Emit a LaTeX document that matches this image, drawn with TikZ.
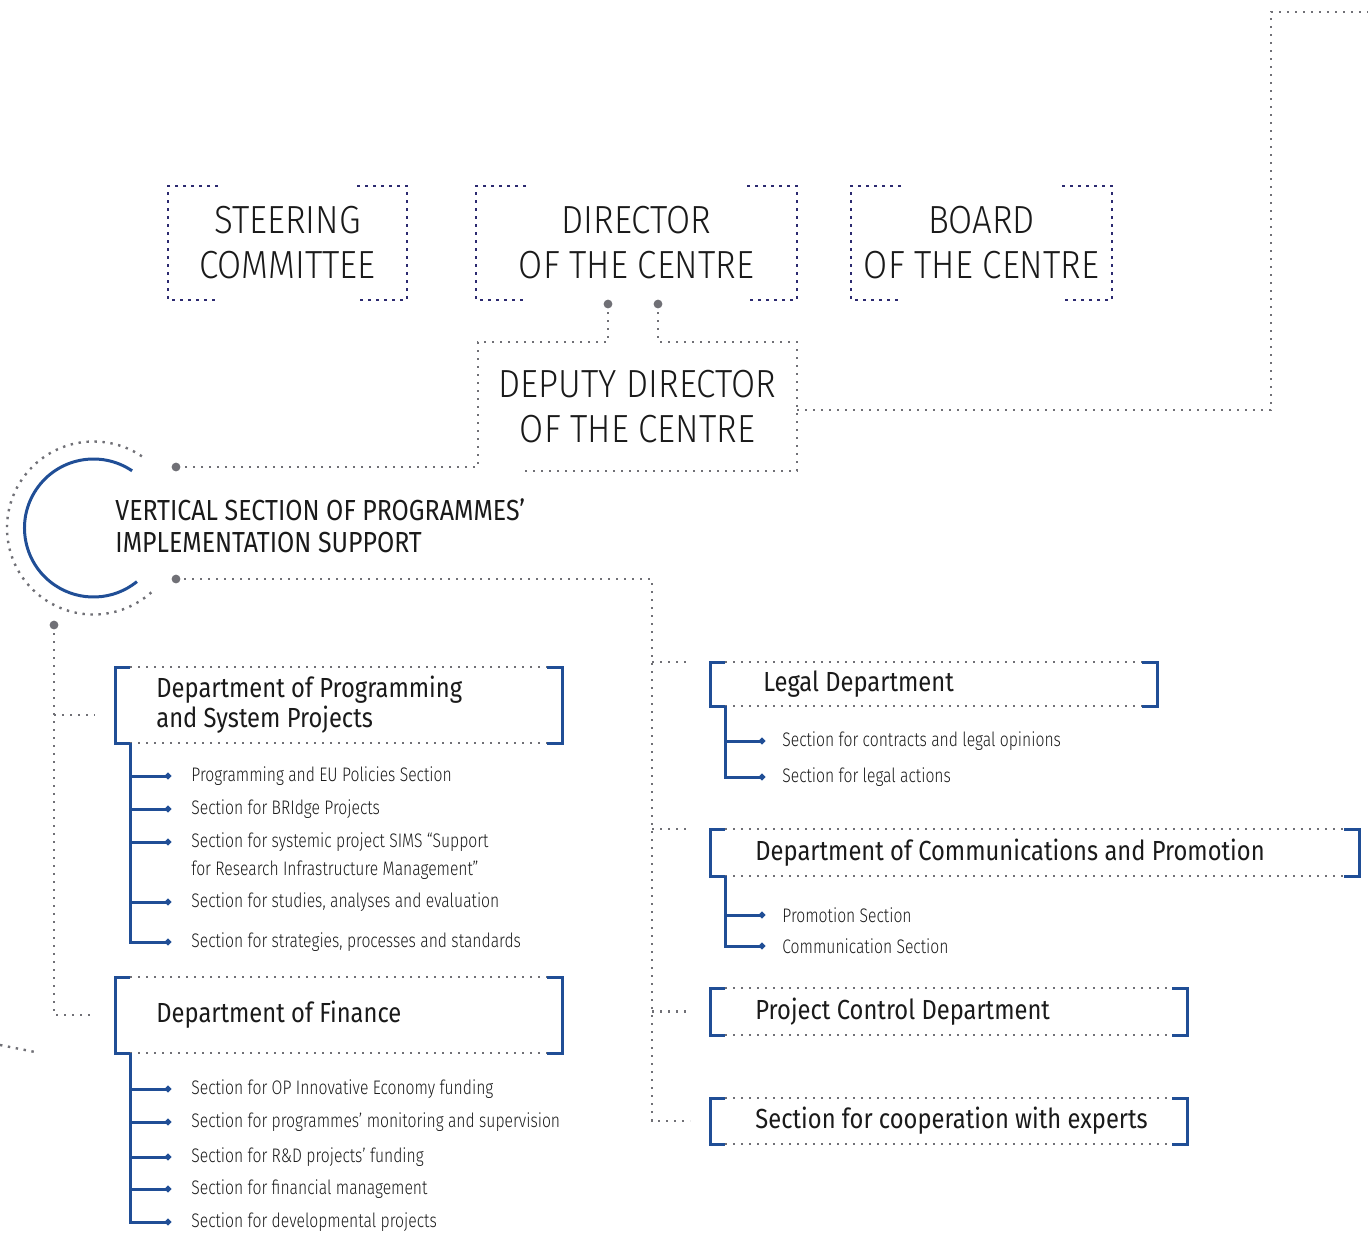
\documentclass[tikz,border=0pt]{standalone}
\usepackage{fontspec}
\setmainfont{Fira Sans}[FakeStretch=0.86]
\newfontfamily\headfont{Fira Sans Light}[FakeStretch=0.89]
\newfontfamily\lightfont{Fira Sans Light}[FakeStretch=0.80]
\usetikzlibrary{arrows.meta}
\definecolor{bracketblue}{RGB}{32,78,150}
\definecolor{dotgrey}{RGB}{112,112,118}
\definecolor{dotnavy}{RGB}{44,42,112}
\definecolor{ink}{RGB}{26,26,26}

\tikzset{
  head/.style={align=center,inner sep=0,outer sep=0,text=ink,
    font=\headfont\fontsize{19.6}{22.5}\selectfont},
  vert/.style={align=left,anchor=west,inner sep=0,text=ink,
    font=\fontsize{14.5}{16}\selectfont},
  frame/.style={inner sep=0,outer sep=0},
  dept/.style={align=left,anchor=west,inner sep=0,text=ink,
    font=\fontsize{13.8}{15}\selectfont},
  sect/.style={align=left,anchor=west,inner sep=0,text=ink,
    font=\lightfont\fontsize{9.8}{14}\selectfont},
  gdot/.style={dotgrey,line width=1.2pt,dash pattern=on 1.2pt off 2.8pt},
  ndot/.style={dotnavy,line width=1.3pt,dash pattern=on 1.3pt off 2.7pt},
  bracket/.style={bracketblue,line width=1.5pt},
  twig/.style={bracketblue,line width=1.5pt,-{Circle[length=3pt]}},
  circline/.style={bracketblue,line width=1.5pt}
}

\begin{document}
\begin{tikzpicture}[x=0.5pt,y=-0.5pt]
\useasboundingbox (0,0) rectangle (1368,1232);

% top row
\node[head,minimum width=119.5pt,minimum height=57pt] (steer) at (287.5,243) {STEERING\\COMMITTEE};
\node[head,minimum width=160.5pt,minimum height=57pt] (dir) at (636.5,243) {DIRECTOR\\OF THE CENTRE};
\node[head,minimum width=130.5pt,minimum height=57pt] (board) at (981.5,243) {BOARD\\OF THE CENTRE};
\node[head,minimum width=159.5pt,minimum height=64.5pt] (dep) at (637.5,406.5) {DEPUTY DIRECTOR\\OF THE CENTRE};

\coordinate (d1) at ([shift={(-28.5,4)}]dir.south);
\coordinate (d2) at ([shift={(21.5,4)}]dir.south);
\coordinate (hub) at (93.5,528);
\coordinate (v1) at (176,467);
\coordinate (v2) at (176,579);
\coordinate (v3) at (54,625);
\coordinate (far) at (1271,12);
\coordinate (edge) at (1368,12);

\node[vert] (vsp) at (115,526) {VERTICAL SECTION OF PROGRAMMES’\\IMPLEMENTATION SUPPORT};

% departments
\node[frame,minimum width=223.5pt,minimum height=38pt] (progbox) at (338.5,705) {};
\node[dept] (prog) at ([shift={(41,0)}]progbox.west) {Department of Programming\\and System Projects};
\node[frame,minimum width=223.5pt,minimum height=38pt] (finbox) at (338.5,1015) {};
\node[dept] (fin) at ([shift={(41,0)}]finbox.west) {Department of Finance};
\node[frame,minimum width=223.5pt,minimum height=22pt] (legalbox) at (933.5,684) {};
\node[dept] (legal) at ([shift={(53,0)}]legalbox.west) {Legal Department};
\node[frame,minimum width=324.5pt,minimum height=23.5pt] (commbox) at (1034.5,852.5) {};
\node[dept] (comm) at ([shift={(45,0)}]commbox.west) {Department of Communications and Promotion};
\node[frame,minimum width=238.5pt,minimum height=23.5pt] (ctrlbox) at (948.5,1011.5) {};
\node[dept] (ctrl) at ([shift={(45,0)}]ctrlbox.west) {Project Control Department};
\node[frame,minimum width=238.5pt,minimum height=23pt] (expbox) at (948.5,1121) {};
\node[dept] (exp) at ([shift={(45,0)}]expbox.west) {Section for cooperation with experts};

% sections
\node[sect] (p1) at (191,776) {Programming and EU Policies Section};
\node[sect] (p2) at (191,809) {Section for BRIdge Projects};
\node[sect] (p3) at (191,856) {Section for systemic project SIMS “Support\\for Research Infrastructure Management”};
\node[sect] (p4) at (191,902) {Section for studies, analyses and evaluation};
\node[sect] (p5) at (191,942) {Section for strategies, processes and standards};

\node[sect] (f1) at (191,1089) {Section for OP Innovative Economy funding};
\node[sect] (f2) at (191,1122) {Section for programmes’ monitoring and supervision};
\node[sect] (f3) at (191,1157) {Section for R\&D projects’ funding};
\node[sect] (f4) at (191,1189) {Section for financial management};
\node[sect] (f5) at (191,1222) {Section for developmental projects};

\node[sect] (l1) at (782,741) {Section for contracts and legal opinions};
\node[sect] (l2) at (782,777) {Section for legal actions};
\node[sect] (c1) at (782,915) {Promotion Section};
\node[sect] (c2) at (782,946) {Communication Section};

% frames
\foreach \b in {steer,dir,board}{
  \draw[ndot] ([shift={(50,0)}]\b.north west) -- (\b.north west) -- (\b.south west) -- ([shift={(50,0)}]\b.south west);
  \draw[ndot] ([shift={(-50,0)}]\b.north east) -- (\b.north east) -- (\b.south east) -- ([shift={(-50,0)}]\b.south east);
}
\foreach \b in {progbox,finbox,legalbox,commbox,ctrlbox,expbox}{
  \draw[gdot] ([shift={(15,0)}]\b.north west) -- ([shift={(-15,0)}]\b.north east);
  \draw[gdot] ([shift={(15,0)}]\b.south west) -- ([shift={(-15,0)}]\b.south east);
  \draw[bracket] ([shift={(15,0)}]\b.north west) -- (\b.north west) -- (\b.south west) -- ([shift={(15,0)}]\b.south west);
  \draw[bracket] ([shift={(-15,0)}]\b.north east) -- (\b.north east) -- (\b.south east) -- ([shift={(-15,0)}]\b.south east);
}

% trees
\coordinate (ptr) at ([shift={(15,0)}]progbox.south west);
\coordinate (ftr) at ([shift={(15,0)}]finbox.south west);
\coordinate (ltr) at ([shift={(15,0)}]legalbox.south west);
\coordinate (ctr) at ([shift={(15,0)}]commbox.south west);
\coordinate (p3a) at ([shift={(-20,-14)}]p3.west);

\draw[twig] (ptr) |- ([shift={(-20,0)}]p5.west);
\foreach \s in {p1,p2,p4}
  \draw[twig] (ptr |- \s.west) -- ([shift={(-20,0)}]\s.west);
\draw[twig] (ptr |- p3a) -- (p3a);
\draw[twig] (ftr) |- ([shift={(-20,0)}]f5.west);
\foreach \s in {f1,f2,f3,f4}
  \draw[twig] (ftr |- \s.west) -- ([shift={(-20,0)}]\s.west);
\draw[twig] (ltr) |- ([shift={(-17,0)}]l2.west);
\draw[twig] (ltr |- l1.west) -- ([shift={(-17,0)}]l1.west);
\draw[twig] (ctr) |- ([shift={(-17,0)}]c2.west);
\draw[twig] (ctr |- c1.west) -- ([shift={(-17,0)}]c1.west);

% circle
\draw[circline] ([shift={(56:34.5pt)}]hub) arc[start angle=56,end angle=309,radius=34.5pt];
\draw[gdot] ([shift={(56:43.25pt)}]hub) arc[start angle=56,end angle=314,radius=43.25pt];

% dotted connectors
\draw[gdot] (d1) |- (dep.north west) |- (v1);
\draw[gdot] (d2) |- (dep.north east) -- (dep.south east) -- ([shift={(47,0)}]dep.south west);
\draw[gdot] ([shift={(0,3.5)}]dep.east) -| (far) -- (edge);

\coordinate (pj) at ([shift={(-20,10)}]progbox.west);
\draw[gdot] (v3) |- ([shift={(-20,0)}]finbox.west);
\draw[gdot] (v3 |- pj) -- (pj);

\draw[gdot] (v2) -| ([shift={(-58,0)}]expbox.west) -- ([shift={(-20,0)}]expbox.west);
\foreach \b/\a in {legalbox/north west,commbox/north west,ctrlbox/west}
  \draw[gdot] ([shift={(-58,0)}]\b.\a) -- ([shift={(-20,0)}]\b.\a);

\draw[gdot] (0,1045) -- (35,1052);

\foreach \p in {d1,d2,v1,v2,v3}
  \fill[dotgrey] (\p) circle (2.2pt);

\end{tikzpicture}
\end{document}
